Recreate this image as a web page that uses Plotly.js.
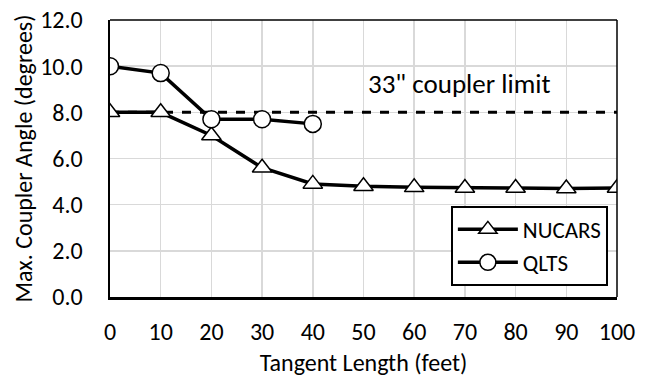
<!DOCTYPE html>
<html><head><meta charset="utf-8">
<script src="https://cdn.plot.ly/plotly-3.0.1.min.js"></script>
<style>body{margin:0;padding:0;background:#fff}#chart{width:652px;height:377px}</style>
</head><body><div id="chart"></div>
<script>
const tangentLength = [0,10,20,30,40,50,60,70,80,90,100];
const nucars = [8.0,8.0,7.0,5.6,4.9,4.8,4.75,4.72,4.72,4.7,4.72];
const qltsX = [0,10,20,30,40];
const qlts = [10.0,9.7,7.7,7.7,7.5];
const limitX = [0,100];
const limitY = [8.0,8.0];
const limitLabel = '33" coupler limit';

const font = "Carlito, Lato, 'Open Sans', sans-serif";
const traces = [
 {x:limitX,y:limitY,mode:'lines',line:{color:'#000',width:3,dash:'dash'},showlegend:false,hoverinfo:'skip'},
 {x:tangentLength,y:nucars,name:'NUCARS',mode:'lines+markers',line:{color:'#000',width:3.5},
  marker:{symbol:'triangle-up',size:17,color:'#fff',line:{color:'#000',width:1.5}}},
 {x:qltsX,y:qlts,name:'QLTS',mode:'lines+markers',line:{color:'#000',width:3.5},
  marker:{symbol:'circle',size:17,color:'#fff',line:{color:'#000',width:1.5}}}
];
const layout = {
 width:652,height:377,
 margin:{l:110,r:35,t:20,b:80},
 paper_bgcolor:'#fff',plot_bgcolor:'#fff',
 font:{family:font,size:24,color:'#000'},
 showlegend:true,
 legend:{x:0.982,y:0.04,xanchor:'right',yanchor:'bottom',bordercolor:'#000',borderwidth:2,bgcolor:'#fff',
   font:{size:23},tracegroupgap:0,itemwidth:60},
 xaxis:{range:[0,100],dtick:10,tick0:0,showgrid:true,gridcolor:'#d9d9d9',gridwidth:1.5,
   showline:true,linecolor:'#000',linewidth:2.5,mirror:false,zeroline:false,ticks:'',ticklabelstandoff:12,
   title:{text:'Tangent Length (feet)',font:{size:24},standoff:34}},
 yaxis:{range:[0,12],dtick:2,tick0:0,tickformat:'.1f',showgrid:true,gridcolor:'#d9d9d9',gridwidth:1.5,
   showline:true,linecolor:'#000',linewidth:2.5,zeroline:false,ticks:'',ticklabelstandoff:20,
   title:{text:'Max. Coupler Angle (degrees)',font:{size:24}}},
 shapes:[
  {type:'line',xref:'paper',yref:'paper',x0:0,x1:1,y0:1,y1:1,line:{color:'#000',width:1.5}},
  {type:'line',xref:'paper',yref:'paper',x0:1,x1:1,y0:0,y1:1,line:{color:'#000',width:1.5}}
 ],
 annotations:[{x:68.9,y:9.25,xref:'x',yref:'y',text:limitLabel,showarrow:false,font:{size:27}}]
};
Plotly.newPlot('chart',traces,layout,{displayModeBar:false,staticPlot:true});
</script></body></html>
